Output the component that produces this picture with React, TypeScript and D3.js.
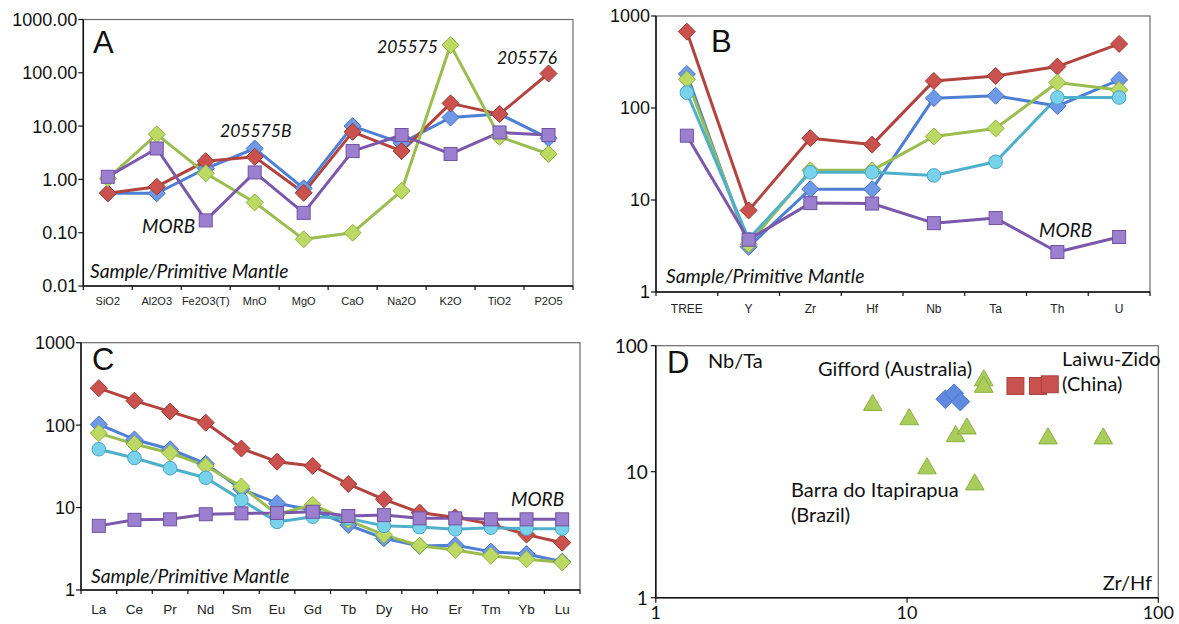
import React from "react";
import * as d3 from "d3";

const W = 1179;
const H = 624;

// ---- panel A: major oxides ----
const oxides = ["SiO2", "Al2O3", "Fe2O3(T)", "MnO", "MgO", "CaO", "Na2O", "K2O", "TiO2", "P2O5"];
const oxide205575B = [0.55, 0.55, 1.6, 3.8, 0.68, 10, 4.8, 14.5, 16.8, 5.9];
const oxide205576 = [0.55, 0.73, 2.2, 2.65, 0.56, 7.8, 3.4, 26.7, 16.8, 97];
const oxide205575 = [1.04, 7.0, 1.3, 0.37, 0.075, 0.1, 0.61, 331, 6.3, 3.0];
const oxideMORB = [1.12, 3.8, 0.17, 1.35, 0.236, 3.4, 6.8, 3.0, 7.6, 6.8];
const oxideTicks = [0.01, 0.1, 1, 10, 100, 1000];

// ---- panel B: trace elements ----
const traces = ["TREE", "Y", "Zr", "Hf", "Nb", "Ta", "Th", "U"];
const trace205576 = [676, 7.7, 47, 40, 197, 223, 282, 497];
const trace205575B = [234, 3.1, 13.1, 13.1, 128, 136, 105, 202];
const trace205575 = [205, 3.3, 21, 21, 49, 60, 189, 157];
const traceCyan = [147, 3.76, 20, 20, 18.5, 26, 130, 130];
const traceMORB = [50, 3.7, 9.25, 9.15, 5.6, 6.36, 2.72, 3.96];

// ---- panel C: REE ----
const rees = ["La", "Ce", "Pr", "Nd", "Sm", "Eu", "Gd", "Tb", "Dy", "Ho", "Er", "Tm", "Yb", "Lu"];
const ree205576 = [281, 198, 146, 107, 52, 36, 32, 19.3, 12.6, 8.7, 7.6, 6.3, 4.7, 3.75];
const ree205575B = [102, 67, 51, 34, 16.7, 11.3, 9.3, 6.15, 4.24, 3.42, 3.5, 2.92, 2.73, 2.2];
const ree205575 = [80, 59, 46, 32, 18, 8.3, 10.8, 7.0, 4.65, 3.45, 3.06, 2.6, 2.36, 2.17];
const reeCyan = [51, 40, 30, 23, 12.4, 6.7, 7.75, 7.4, 6.0, 5.8, 5.45, 5.7, 5.55, 5.55];
const reeMORB = [6.0, 7.1, 7.2, 8.3, 8.5, 8.6, 8.9, 7.9, 8.1, 7.4, 7.4, 7.2, 7.2, 7.2];
const tripleTicks = [1, 10, 100, 1000];

// ---- panel D: Zr/Hf vs Nb/Ta ----
const barraZrHf = [7.3, 10.2, 12, 15.6, 17.3, 18.6, 20.2, 20.2, 36.4, 60.4];
const barraNbTa = [35, 27, 11, 19.8, 22.8, 8.2, 55, 48.8, 19, 19];
const giffordZrHf = [14.2, 15.4, 16.3];
const giffordNbTa = [37.6, 41.9, 36];
const laiwuZrHf = [27, 33.2, 37];
const laiwuNbTa = [47.9, 47.9, 49.4];
const ratioTicks = [1, 10, 100];

const ARIAL = "'Liberation Sans', Arial, sans-serif";
const CAL = "Lato, 'Open Sans', sans-serif";

const BLUE = { line: "#4d7fd4", fill: "#6e99e6", stroke: "#4a73c2", shape: "diamond" };
const RED = { line: "#b3433f", fill: "#c9524e", stroke: "#9e3a36", shape: "diamond" };
const GREEN = { line: "#9bbd4f", fill: "#bcd963", stroke: "#8fb043", shape: "diamond" };
const CYAN = { line: "#4fb0cc", fill: "#79d2ec", stroke: "#49a5c0", shape: "circle" };
const PURPLE = { line: "#7b58ab", fill: "#9c80d0", stroke: "#6f52a0", shape: "square" };

type Note = { text: string; x: number; y: number; italic?: boolean; size?: number; anchor?: string };

const Marker = ({ shape, x, y, st, s = 1 }: { shape: string; x: number; y: number; st: any; s?: number }) => {
  if (shape === "circle") return <circle cx={x} cy={y} r={6.8 * s} fill={st.fill} stroke={st.stroke} strokeWidth={1} />;
  if (shape === "square")
    return <rect x={x - 6.5 * s} y={y - 6.5 * s} width={13 * s} height={13 * s} fill={st.fill} stroke={st.stroke} strokeWidth={1} />;
  const d = 8.5 * s;
  return <path d={`M${x},${y - d}L${x + d},${y}L${x},${y + d}L${x - d},${y}Z`} fill={st.fill} stroke={st.stroke} strokeWidth={1} />;
};

const LinePanel = ({ box, cats, series, ticks, fmt, catSize, catY, letter, notes }: any) => {
  const x = d3.scaleBand<string>().domain(cats).range([box.left, box.right]);
  const y = d3.scaleLog().domain([ticks[0], ticks[ticks.length - 1]]).range([box.bottom, box.top]);
  const cx = (c: string) => (x(c) as number) + x.bandwidth() / 2;
  const line = d3.line<number>().x((_, i) => cx(cats[i])).y((v) => y(v));
  const bounds = [...cats.map((c: string) => x(c) as number), box.right];
  return (
    <g>
      <rect x={box.left} y={box.top} width={box.right - box.left} height={box.bottom - box.top} fill="none" stroke="#6b6b6b" strokeWidth={1.2} />
      <line x1={box.left} x2={box.left} y1={box.top} y2={box.bottom} stroke="#111" strokeWidth={1.5} />
      <line x1={box.left} x2={box.right} y1={box.bottom} y2={box.bottom} stroke="#111" strokeWidth={1.5} />
      {ticks.map((t: number) => (
        <g key={t}>
          <line x1={box.left - 5} x2={box.left} y1={y(t)} y2={y(t)} stroke="#111" strokeWidth={1.2} />
          <text x={box.left - 6} y={y(t)} dy="0.36em" textAnchor="end" fontFamily={ARIAL} fontSize={18} fill="#111">
            {fmt(t)}
          </text>
        </g>
      ))}
      {bounds.map((b: number, i: number) => (
        <line key={i} x1={b} x2={b} y1={box.bottom} y2={box.bottom + 4} stroke="#111" strokeWidth={1.2} />
      ))}
      {cats.map((c: string) => (
        <text key={c} x={cx(c)} y={catY} textAnchor="middle" fontFamily={ARIAL} fontSize={catSize} fill="#222">
          {c}
        </text>
      ))}
      {series.map((s: any, k: number) => (
        <path key={k} d={line(s.values) as string} fill="none" stroke={s.st.line} strokeWidth={3} strokeLinejoin="round" />
      ))}
      {series.map((s: any, k: number) => (
        <g key={k}>
          {s.values.map((v: number, i: number) => (
            <Marker key={i} shape={s.st.shape} x={cx(cats[i])} y={y(v)} st={s.st} />
          ))}
        </g>
      ))}
      <text x={letter.x} y={letter.y} fontFamily={ARIAL} fontSize={31} fill="#111">
        {letter.text}
      </text>
      {notes.map((n: Note, i: number) => (
        <text key={i} x={n.x} y={n.y} fontFamily={CAL} fontStyle={n.italic ? "italic" : "normal"} fontSize={n.size || 17.5} fill="#111" textAnchor={n.anchor || "start"}>
          {n.text}
        </text>
      ))}
    </g>
  );
};

const ScatterPanel = () => {
  const box = { left: 655.8, right: 1158.3, top: 345.7, bottom: 597.7 };
  const x = d3.scaleLog().domain([1, 100]).range([box.left, box.right]);
  const y = d3.scaleLog().domain([1, 100]).range([box.bottom, box.top]);
  const tri = d3.symbol().type(d3.symbolTriangle).size(150)() as string;
  const notes: Note[] = [
    { text: "Nb/Ta", x: 708, y: 368 },
    { text: "Gifford (Australia)", x: 818, y: 376 },
    { text: "Laiwu-Zido", x: 1062, y: 366 },
    { text: "(China)", x: 1062, y: 391 },
    { text: "Barra do Itapirapua", x: 791, y: 497 },
    { text: "(Brazil)", x: 791, y: 522 },
    { text: "Zr/Hf", x: 1152, y: 590, anchor: "end" },
  ];
  return (
    <g>
      <rect x={box.left} y={box.top} width={box.right - box.left} height={box.bottom - box.top} fill="none" stroke="#6b6b6b" strokeWidth={1.2} />
      <line x1={box.left} x2={box.left} y1={box.top} y2={box.bottom} stroke="#111" strokeWidth={1.5} />
      <line x1={box.left} x2={box.right} y1={box.bottom} y2={box.bottom} stroke="#111" strokeWidth={1.5} />
      {ratioTicks.map((t) => (
        <g key={t}>
          <line x1={box.left - 5} x2={box.left} y1={y(t)} y2={y(t)} stroke="#111" strokeWidth={1.2} />
          <text x={box.left - 8} y={y(t)} dy="0.36em" textAnchor="end" fontFamily={CAL} fontSize={19} fill="#111">
            {t}
          </text>
          <line x1={x(t)} x2={x(t)} y1={box.bottom} y2={box.bottom + 5} stroke="#111" strokeWidth={1.2} />
          <text x={x(t)} y={619} textAnchor="middle" fontFamily={CAL} fontSize={18} fill="#111">
            {t}
          </text>
        </g>
      ))}
      {barraZrHf.map((v, i) => (
        <path key={i} d={tri} transform={`translate(${x(v)},${y(barraNbTa[i]) + 2})`} fill="#a9cc5a" stroke="#8cb043" strokeWidth={1} />
      ))}
      {giffordZrHf.map((v, i) => (
        <Marker key={i} shape="diamond" x={x(v)} y={y(giffordNbTa[i])} st={{ fill: "#5f8ae0", stroke: "#4a74c8" }} s={1.1} />
      ))}
      {laiwuZrHf.map((v, i) => (
        <Marker key={i} shape="square" x={x(v)} y={y(laiwuNbTa[i])} st={{ fill: "#c9524e", stroke: "#a8403c" }} s={1.3} />
      ))}
      <text x={667} y={373} fontFamily={ARIAL} fontSize={31} fill="#111">
        D
      </text>
      {notes.map((n, i) => (
        <text key={i} x={n.x} y={n.y} fontFamily={CAL} fontSize={20} fill="#111" textAnchor={n.anchor || "start"}>
          {n.text}
        </text>
      ))}
    </g>
  );
};

const spm = "Sample/Primitive Mantle";

export default function App() {
  return (
    <svg width={W} height={H} style={{ position: "absolute", left: 0, top: 0, background: "#fff" }}>
      <LinePanel
        box={{ left: 83.3, right: 573, top: 19.5, bottom: 286 }}
        cats={oxides}
        ticks={oxideTicks}
        fmt={(t: number) => t.toFixed(2)}
        catSize={11}
        catY={305}
        series={[
          { values: oxide205575B, st: BLUE },
          { values: oxide205576, st: RED },
          { values: oxide205575, st: GREEN },
          { values: oxideMORB, st: PURPLE },
        ]}
        letter={{ text: "A", x: 93, y: 53 }}
        notes={[
          { text: "205575B", x: 220, y: 137, italic: true },
          { text: "MORB", x: 142, y: 233, italic: true, size: 19 },
          { text: "205575", x: 377, y: 53, italic: true },
          { text: "205576", x: 497, y: 64, italic: true },
          { text: spm, x: 90, y: 278, italic: true, size: 19.3 },
        ]}
      />
      <LinePanel
        box={{ left: 656, right: 1150, top: 16, bottom: 292 }}
        cats={traces}
        ticks={tripleTicks}
        fmt={(t: number) => String(t)}
        catSize={12}
        catY={313}
        series={[
          { values: trace205575B, st: BLUE },
          { values: trace205576, st: RED },
          { values: trace205575, st: GREEN },
          { values: traceCyan, st: CYAN },
          { values: traceMORB, st: PURPLE },
        ]}
        letter={{ text: "B", x: 711, y: 52 }}
        notes={[
          { text: "MORB", x: 1039, y: 237, italic: true, size: 19 },
          { text: spm, x: 666, y: 283, italic: true, size: 19.3 },
        ]}
      />
      <LinePanel
        box={{ left: 81, right: 580, top: 342.7, bottom: 590 }}
        cats={rees}
        ticks={tripleTicks}
        fmt={(t: number) => String(t)}
        catSize={13.5}
        catY={614}
        series={[
          { values: ree205575B, st: BLUE },
          { values: ree205576, st: RED },
          { values: ree205575, st: GREEN },
          { values: reeCyan, st: CYAN },
          { values: reeMORB, st: PURPLE },
        ]}
        letter={{ text: "C", x: 92, y: 370 }}
        notes={[
          { text: "MORB", x: 511, y: 506, italic: true, size: 19 },
          { text: spm, x: 91, y: 583, italic: true, size: 19.3 },
        ]}
      />
      <ScatterPanel />
    </svg>
  );
}
